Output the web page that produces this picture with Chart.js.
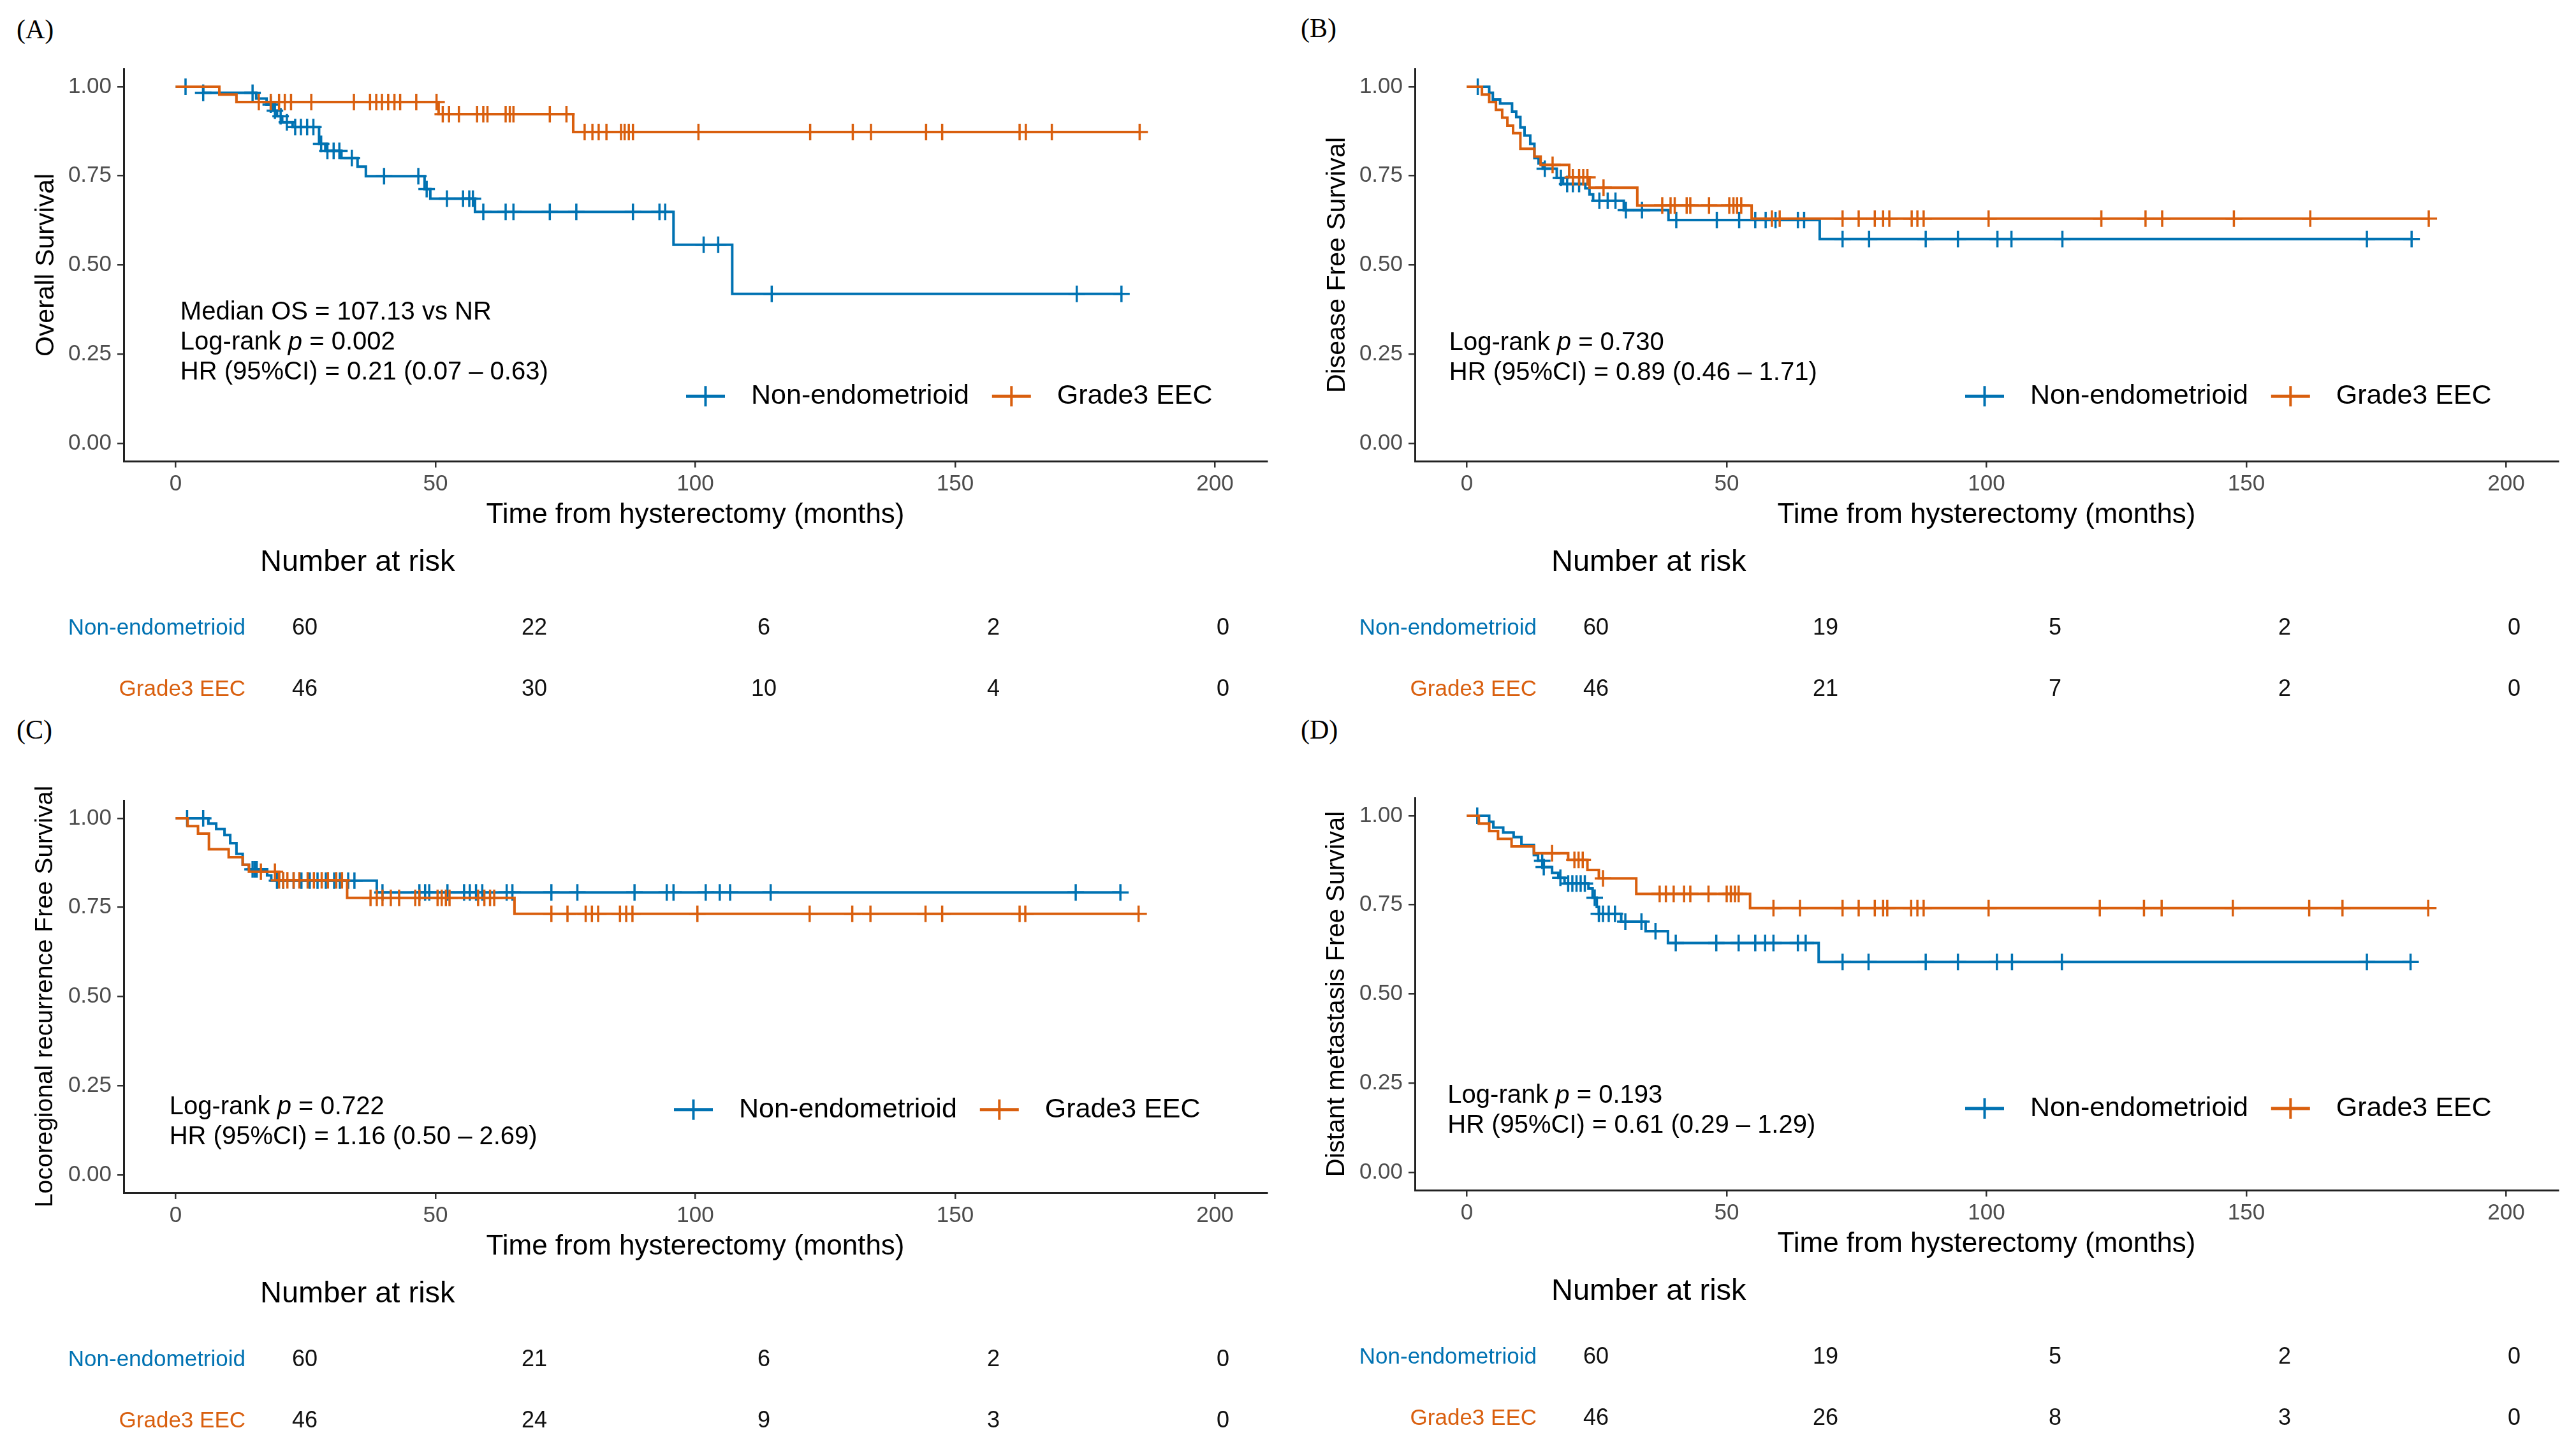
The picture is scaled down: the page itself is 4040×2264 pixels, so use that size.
<!DOCTYPE html>
<html>
<head>
<meta charset="utf-8">
<script src="https://cdn.jsdelivr.net/npm/chart.js@4.4.1/dist/chart.umd.min.js"></script>
<style>
  body { margin: 0; background: #fff; width: 4040px; height: 2264px; overflow: hidden; position: relative; }
  .panel { position: absolute; width: 2020px; height: 1132px; }
  .panel canvas { position: absolute; left: 0; }
  .tag { position: absolute; font: 42px "Liberation Serif", "Times New Roman", serif; color: #000; }
</style>
</head>
<body>
<div class="tag" style="left:26px;top:22px">(A)</div>
<div class="tag" style="left:2040px;top:20px">(B)</div>
<div class="tag" style="left:26px;top:1120px">(C)</div>
<div class="tag" style="left:2040px;top:1120px">(D)</div>

<div class="panel" style="left:0;top:0"><canvas id="kmA" width="2020" height="840" style="top:0"></canvas><canvas id="riskA" width="2020" height="330" style="top:840px"></canvas></div>
<div class="panel" style="left:2025px;top:0"><canvas id="kmB" width="2015" height="840" style="top:0"></canvas><canvas id="riskB" width="2015" height="330" style="top:840px"></canvas></div>
<div class="panel" style="left:0;top:1147px"><canvas id="kmC" width="2020" height="840" style="top:0"></canvas><canvas id="riskC" width="2020" height="330" style="top:840px"></canvas></div>
<div class="panel" style="left:2025px;top:1143px"><canvas id="kmD" width="2015" height="840" style="top:0"></canvas><canvas id="riskD" width="2015" height="330" style="top:840px"></canvas></div>

<script>
const groups = ['Non-endometrioid', 'Grade3 EEC'];
const colors = ['#0072B2', '#D95F0E'];
const xTicks = [0, 50, 100, 150, 200];
const yTicks = [0, 0.25, 0.5, 0.75, 1];
const riskTimes = [0, 50, 100, 150, 200];
const xTitle = 'Time from hysterectomy (months)';

// (A) overall survival
const osNonTimes = [5.3, 15.5, 17.5, 18.7, 19.5, 20.5, 22.5, 27.6, 28.8, 31.9, 35.0, 36.6, 47.9, 49.0, 57.6, 95.8, 107.1];
const osNonSurv = [0.983, 0.967, 0.950, 0.933, 0.917, 0.900, 0.887, 0.840, 0.820, 0.800, 0.776, 0.749, 0.713, 0.686, 0.649, 0.557, 0.419];
const osNonCens = [1.9, 5.3, 14.8, 18.3, 19.1, 20.2, 21.4, 23.0, 24.1, 25.3, 26.5, 28.0, 29.2, 30.4, 31.5, 33.9, 40.1, 46.7, 48.3, 52.2, 55.3, 56.5, 57.2, 59.2, 63.5, 65.0, 72.0, 77.1, 88.0, 93.1, 94.2, 101.6, 104.4, 114.7, 173.4, 182.0];
const osG3Times = [8.4, 11.7, 50.6, 76.5];
const osG3Surv = [0.978, 0.957, 0.923, 0.873];
const osG3Cens = [16.0, 18.3, 19.9, 21.0, 22.2, 26.1, 34.3, 37.4, 38.6, 39.7, 40.9, 42.1, 43.2, 46.3, 50.2, 51.4, 52.6, 54.5, 58.0, 59.2, 60.0, 63.5, 64.3, 65.0, 72.0, 75.2, 78.7, 80.2, 81.4, 82.9, 85.7, 86.4, 87.2, 88.0, 100.6, 122.1, 130.3, 133.8, 144.4, 147.5, 162.4, 163.6, 168.6, 185.5];
const osRiskNon = [60, 22, 6, 2, 0];
const osRiskG3 = [46, 30, 10, 4, 0];
const osNotes = ['Median OS = 107.13 vs NR', 'Log-rank p = 0.002', 'HR (95%CI) = 0.21 (0.07 \u2013 0.63)'];

// (B) disease free survival
const dfsNonTimes = [4.3, 5.0, 6.4, 8.7, 9.5, 10.3, 11.1, 12.2, 13.0, 13.8, 14.6, 17.3, 18.5, 22.8, 23.6, 24.3, 30.2, 38.8, 67.9];
const dfsNonSurv = [0.983, 0.964, 0.953, 0.930, 0.915, 0.886, 0.863, 0.840, 0.800, 0.785, 0.770, 0.744, 0.727, 0.715, 0.698, 0.680, 0.654, 0.626, 0.573];
const dfsNonCens = [2.1, 15.0, 18.1, 19.3, 20.4, 21.6, 25.5, 27.1, 28.6, 30.6, 33.7, 40.3, 48.1, 52.4, 55.5, 57.5, 59.4, 63.7, 64.9, 72.3, 77.4, 88.3, 94.5, 102.1, 104.8, 114.6, 173.2, 181.8];
const dfsG3Times = [2.9, 4.3, 5.6, 6.8, 7.8, 8.9, 10.3, 13.0, 14.2, 19.7, 23.6, 32.8, 54.8];
const dfsG3Surv = [0.978, 0.957, 0.935, 0.913, 0.891, 0.870, 0.826, 0.804, 0.781, 0.746, 0.717, 0.667, 0.630];
const dfsG3Cens = [16.5, 20.4, 21.6, 22.4, 23.2, 26.3, 37.6, 39.2, 40.0, 42.3, 43.0, 46.6, 50.5, 51.3, 52.0, 52.8, 58.7, 60.2, 72.3, 75.4, 78.5, 80.1, 81.3, 85.6, 86.7, 87.9, 100.4, 122.1, 130.6, 133.8, 147.6, 162.3, 185.1];
const dfsRiskNon = [60, 19, 5, 2, 0];
const dfsRiskG3 = [46, 21, 7, 2, 0];
const dfsNotes = ['Log-rank p = 0.730', 'HR (95%CI) = 0.89 (0.46 \u2013 1.71)'];

// (C) locoregional recurrence free survival
const lrfsNonTimes = [6.3, 7.8, 9.4, 10.5, 11.7, 12.9, 14.1, 17.6, 18.4, 38.7];
const lrfsNonSurv = [0.985, 0.970, 0.953, 0.930, 0.900, 0.870, 0.857, 0.840, 0.825, 0.792];
const lrfsNonCens = [2.2, 5.3, 14.8, 15.2, 15.6, 19.5, 20.7, 22.7, 24.2, 25.8, 27.3, 28.9, 30.5, 31.6, 33.2, 34.4, 39.8, 46.9, 48.0, 48.8, 52.3, 55.5, 56.6, 57.8, 59.0, 63.7, 64.8, 72.3, 77.3, 88.3, 94.5, 95.8, 102.0, 104.7, 106.7, 114.5, 173.2, 181.8];
const lrfsG3Times = [2.3, 4.3, 6.4, 10.2, 12.9, 14.1, 19.9, 33.0, 65.2];
const lrfsG3Surv = [0.978, 0.957, 0.913, 0.891, 0.870, 0.850, 0.826, 0.777, 0.732];
const lrfsG3Cens = [16.4, 19.1, 19.9, 20.7, 21.5, 22.7, 23.8, 25.4, 26.6, 28.1, 29.3, 30.9, 32.0, 37.5, 38.7, 39.8, 41.4, 43.0, 46.1, 46.9, 50.4, 51.2, 52.0, 52.7, 58.2, 59.4, 60.5, 61.3, 72.3, 75.4, 78.9, 80.1, 81.3, 85.5, 86.7, 87.9, 100.4, 122.0, 130.2, 133.7, 144.3, 147.5, 162.4, 163.5, 185.3];
const lrfsRiskNon = [60, 21, 6, 2, 0];
const lrfsRiskG3 = [46, 24, 9, 3, 0];
const lrfsNotes = ['Log-rank p = 0.722', 'HR (95%CI) = 1.16 (0.50 \u2013 2.69)'];

// (D) distant metastasis free survival
const dmfsNonTimes = [4.3, 5.1, 7.0, 9.0, 10.5, 12.9, 13.7, 14.8, 16.4, 17.6, 18.8, 23.4, 24.2, 25.0, 25.4, 29.7, 34.4, 38.7, 67.7];
const dmfsNonSurv = [0.983, 0.967, 0.953, 0.940, 0.918, 0.890, 0.874, 0.856, 0.840, 0.826, 0.810, 0.796, 0.770, 0.744, 0.725, 0.703, 0.676, 0.643, 0.590];
const dmfsNonCens = [2.0, 14.5, 14.8, 18.0, 19.5, 20.3, 21.1, 21.9, 22.7, 24.6, 25.4, 26.2, 27.3, 28.5, 30.5, 33.6, 36.3, 40.2, 48.0, 52.3, 55.5, 57.4, 59.0, 63.7, 65.2, 72.3, 77.3, 88.3, 94.5, 102.0, 104.9, 114.5, 173.2, 181.6];
const dmfsG3Times = [2.3, 4.3, 6.0, 8.6, 12.9, 19.5, 23.2, 25.4, 32.6, 54.5];
const dmfsG3Surv = [0.978, 0.957, 0.935, 0.914, 0.895, 0.876, 0.848, 0.824, 0.781, 0.741];
const dmfsG3Cens = [16.4, 20.7, 21.5, 22.3, 26.2, 37.1, 38.3, 39.8, 41.8, 43.0, 46.5, 50.0, 50.8, 51.6, 52.3, 59.0, 64.1, 72.3, 75.4, 78.5, 80.1, 80.9, 85.5, 86.7, 87.9, 100.4, 121.8, 130.3, 133.7, 147.4, 162.1, 168.5, 185.0];
const dmfsRiskNon = [60, 19, 5, 2, 0];
const dmfsRiskG3 = [46, 26, 8, 3, 0];
const dmfsNotes = ['Log-rank p = 0.193', 'HR (95%CI) = 0.61 (0.29 \u2013 1.29)'];

const FONT = '"Liberation Sans", Arial, sans-serif';
Chart.defaults.font.family = FONT;
Chart.defaults.color = '#000';

function survAt(times, surv, t) {
  let s = 1;
  times.forEach((ti, i) => { if (ti <= t) s = surv[i]; });
  return s;
}

// step curve: flat at the previous value, then drop at each event time
function curve(times, surv, cens) {
  const pts = [{x: 0, y: 1}];
  let prev = 1;
  times.forEach((t, i) => {
    pts.push({x: t, y: prev}, {x: t, y: surv[i]});
    prev = surv[i];
  });
  pts.push({x: Math.max(times[times.length - 1], cens[cens.length - 1]), y: prev});
  return pts;
}

function marks(times, surv, cens) {
  return cens.map(c => ({x: c, y: survAt(times, surv, c)}));
}

const kmExtras = {
  id: 'kmExtras',
  afterDatasetsDraw(chart, args, opts) {
    const {ctx, chartArea, scales: {x, y}} = chart;
    ctx.save();
    ctx.textBaseline = 'middle';
    ctx.textAlign = 'left';
    ctx.fillStyle = '#000';

    // log-rank / HR notes
    const nx = x.getPixelForValue(opts.noteAt[0]);
    let ny = y.getPixelForValue(opts.noteAt[1]);
    opts.notes.forEach(line => {
      let cx = nx;
      const parts = line.split(' p ');
      ctx.font = '40px ' + FONT;
      if (parts.length === 2) {
        ctx.fillText(parts[0] + ' ', cx, ny);
        cx += ctx.measureText(parts[0] + ' ').width;
        ctx.font = 'italic 40px ' + FONT;
        ctx.fillText('p', cx, ny);
        cx += ctx.measureText('p').width;
        ctx.font = '40px ' + FONT;
        ctx.fillText(' ' + parts[1], cx, ny);
      } else {
        ctx.fillText(line, cx, ny);
      }
      ny += 47;
    });

    // legend inside the panel
    let lx = chartArea.left + opts.legendAt[0];
    const ly = y.getPixelForValue(opts.legendAt[1]);
    ctx.font = '43px ' + FONT;
    groups.forEach((g, i) => {
      ctx.strokeStyle = colors[i];
      ctx.lineWidth = 5;
      ctx.beginPath();
      ctx.moveTo(lx, ly);
      ctx.lineTo(lx + 61, ly);
      ctx.stroke();
      ctx.lineWidth = 4;
      ctx.beginPath();
      ctx.moveTo(lx + 30.5, ly - 16);
      ctx.lineTo(lx + 30.5, ly + 16);
      ctx.stroke();
      ctx.fillText(g, lx + 102, ly);
      lx += 102 + ctx.measureText(g).width + 36;
    });
    ctx.restore();
  }
};

const riskText = {
  id: 'riskText',
  afterDatasetsDraw(chart, args, opts) {
    const {ctx, chartArea} = chart;
    ctx.save();
    ctx.fillStyle = '#111';
    ctx.textBaseline = 'middle';
    ctx.textAlign = 'center';
    ctx.font = '36px ' + FONT;
    chart.data.datasets.forEach((ds, i) => {
      chart.getDatasetMeta(i).data.forEach((pt, j) => {
        ctx.fillText(String(ds.data[j].n), pt.x, pt.y);
      });
    });
    ctx.textAlign = 'left';
    ctx.font = '47px ' + FONT;
    ctx.fillStyle = '#000';
    ctx.fillText(opts.title, chartArea.left + 2, chartArea.top - 55);
    ctx.restore();
  }
};

const panels = [
  {id: 'A', yTitle: 'Overall Survival', yFont: 41,
   non: [osNonTimes, osNonSurv, osNonCens], g3: [osG3Times, osG3Surv, osG3Cens],
   risk: [osRiskNon, osRiskG3], notes: osNotes, noteAt: [0.9, 0.366], legendAt: [882, 0.132]},
  {id: 'B', yTitle: 'Disease Free Survival', yFont: 41,
   non: [dfsNonTimes, dfsNonSurv, dfsNonCens], g3: [dfsG3Times, dfsG3Surv, dfsG3Cens],
   risk: [dfsRiskNon, dfsRiskG3], notes: dfsNotes, noteAt: [-3.4, 0.281], legendAt: [863, 0.132]},
  {id: 'C', yTitle: 'Locoregional recurrence Free Survival', yFont: 39,
   non: [lrfsNonTimes, lrfsNonSurv, lrfsNonCens], g3: [lrfsG3Times, lrfsG3Surv, lrfsG3Cens],
   risk: [lrfsRiskNon, lrfsRiskG3], notes: lrfsNotes, noteAt: [-1.2, 0.190], legendAt: [863, 0.183]},
  {id: 'D', yTitle: 'Distant metastasis Free Survival', yFont: 40,
   non: [dmfsNonTimes, dmfsNonSurv, dmfsNonCens], g3: [dmfsG3Times, dmfsG3Surv, dmfsG3Cens],
   risk: [dmfsRiskNon, dmfsRiskG3], notes: dmfsNotes, noteAt: [-3.7, 0.214], legendAt: [863, 0.179]}
];

panels.forEach(p => {
  const kmCanvas = document.getElementById('km' + p.id);
  new Chart(kmCanvas, {
    type: 'scatter',
    data: {
      datasets: [
        {data: curve(...p.non), showLine: true, borderColor: colors[0], borderWidth: 4, pointRadius: 0, order: 4},
        {data: marks(...p.non), pointStyle: 'cross', pointRadius: 13, borderColor: colors[0], borderWidth: 3.5, order: 3},
        {data: curve(...p.g3), showLine: true, borderColor: colors[1], borderWidth: 4, pointRadius: 0, order: 2},
        {data: marks(...p.g3), pointStyle: 'cross', pointRadius: 13, borderColor: colors[1], borderWidth: 3.5, order: 1}
      ]
    },
    options: {
      responsive: false,
      animation: false,
      devicePixelRatio: 1,
      events: [],
      layout: {padding: {left: 0, top: 108, right: kmCanvas.width - 1987, bottom: 6}},
      plugins: {
        legend: {display: false},
        tooltip: {enabled: false},
        kmExtras: {notes: p.notes, noteAt: p.noteAt, legendAt: p.legendAt}
      },
      scales: {
        x: {
          type: 'linear', min: -10, max: 210,
          afterBuildTicks: s => { s.ticks = xTicks.map(v => ({value: v})); },
          afterFit: s => { s.height = 111; },
          ticks: {font: {size: 35}, color: '#4d4d4d', padding: 5},
          grid: {drawOnChartArea: false, tickLength: 10, color: '#333', lineWidth: 2.5},
          border: {color: '#222', width: 3},
          title: {display: true, text: xTitle, font: {size: 44}, color: '#000', padding: 0}
        },
        y: {
          type: 'linear', min: -0.05, max: 1.05,
          afterBuildTicks: s => { s.ticks = yTicks.map(v => ({value: v})); },
          afterFit: s => { s.width = 194; },
          ticks: {font: {size: 35}, color: '#4d4d4d', padding: 9, callback: v => v.toFixed(2)},
          grid: {drawOnChartArea: false, tickLength: 10, color: '#333', lineWidth: 2.5},
          border: {color: '#222', width: 3},
          title: {display: true, text: p.yTitle, font: {size: p.yFont}, color: '#000', padding: {top: 48, bottom: 0}}
        }
      }
    },
    plugins: [kmExtras]
  });

  const riskCanvas = document.getElementById('risk' + p.id);
  new Chart(riskCanvas, {
    type: 'scatter',
    data: {
      datasets: groups.map((g, gi) => ({
        data: riskTimes.map((t, j) => ({x: t, y: g, n: p.risk[gi][j]})),
        pointRadius: 0
      }))
    },
    options: {
      responsive: false,
      animation: false,
      devicePixelRatio: 1,
      events: [],
      layout: {padding: {left: 0, top: 97, right: riskCanvas.width - 1990, bottom: 41}},
      plugins: {
        legend: {display: false},
        tooltip: {enabled: false},
        riskText: {title: 'Number at risk'}
      },
      scales: {
        x: {type: 'linear', min: -10, max: 210, display: false},
        y: {
          type: 'category', labels: groups, offset: true,
          afterFit: s => { s.width = 406; },
          grid: {display: false},
          border: {display: false},
          ticks: {font: {size: 35}, padding: 13, color: c => colors[c.index]}
        }
      }
    },
    plugins: [riskText]
  });
});
</script>
</body>
</html>
